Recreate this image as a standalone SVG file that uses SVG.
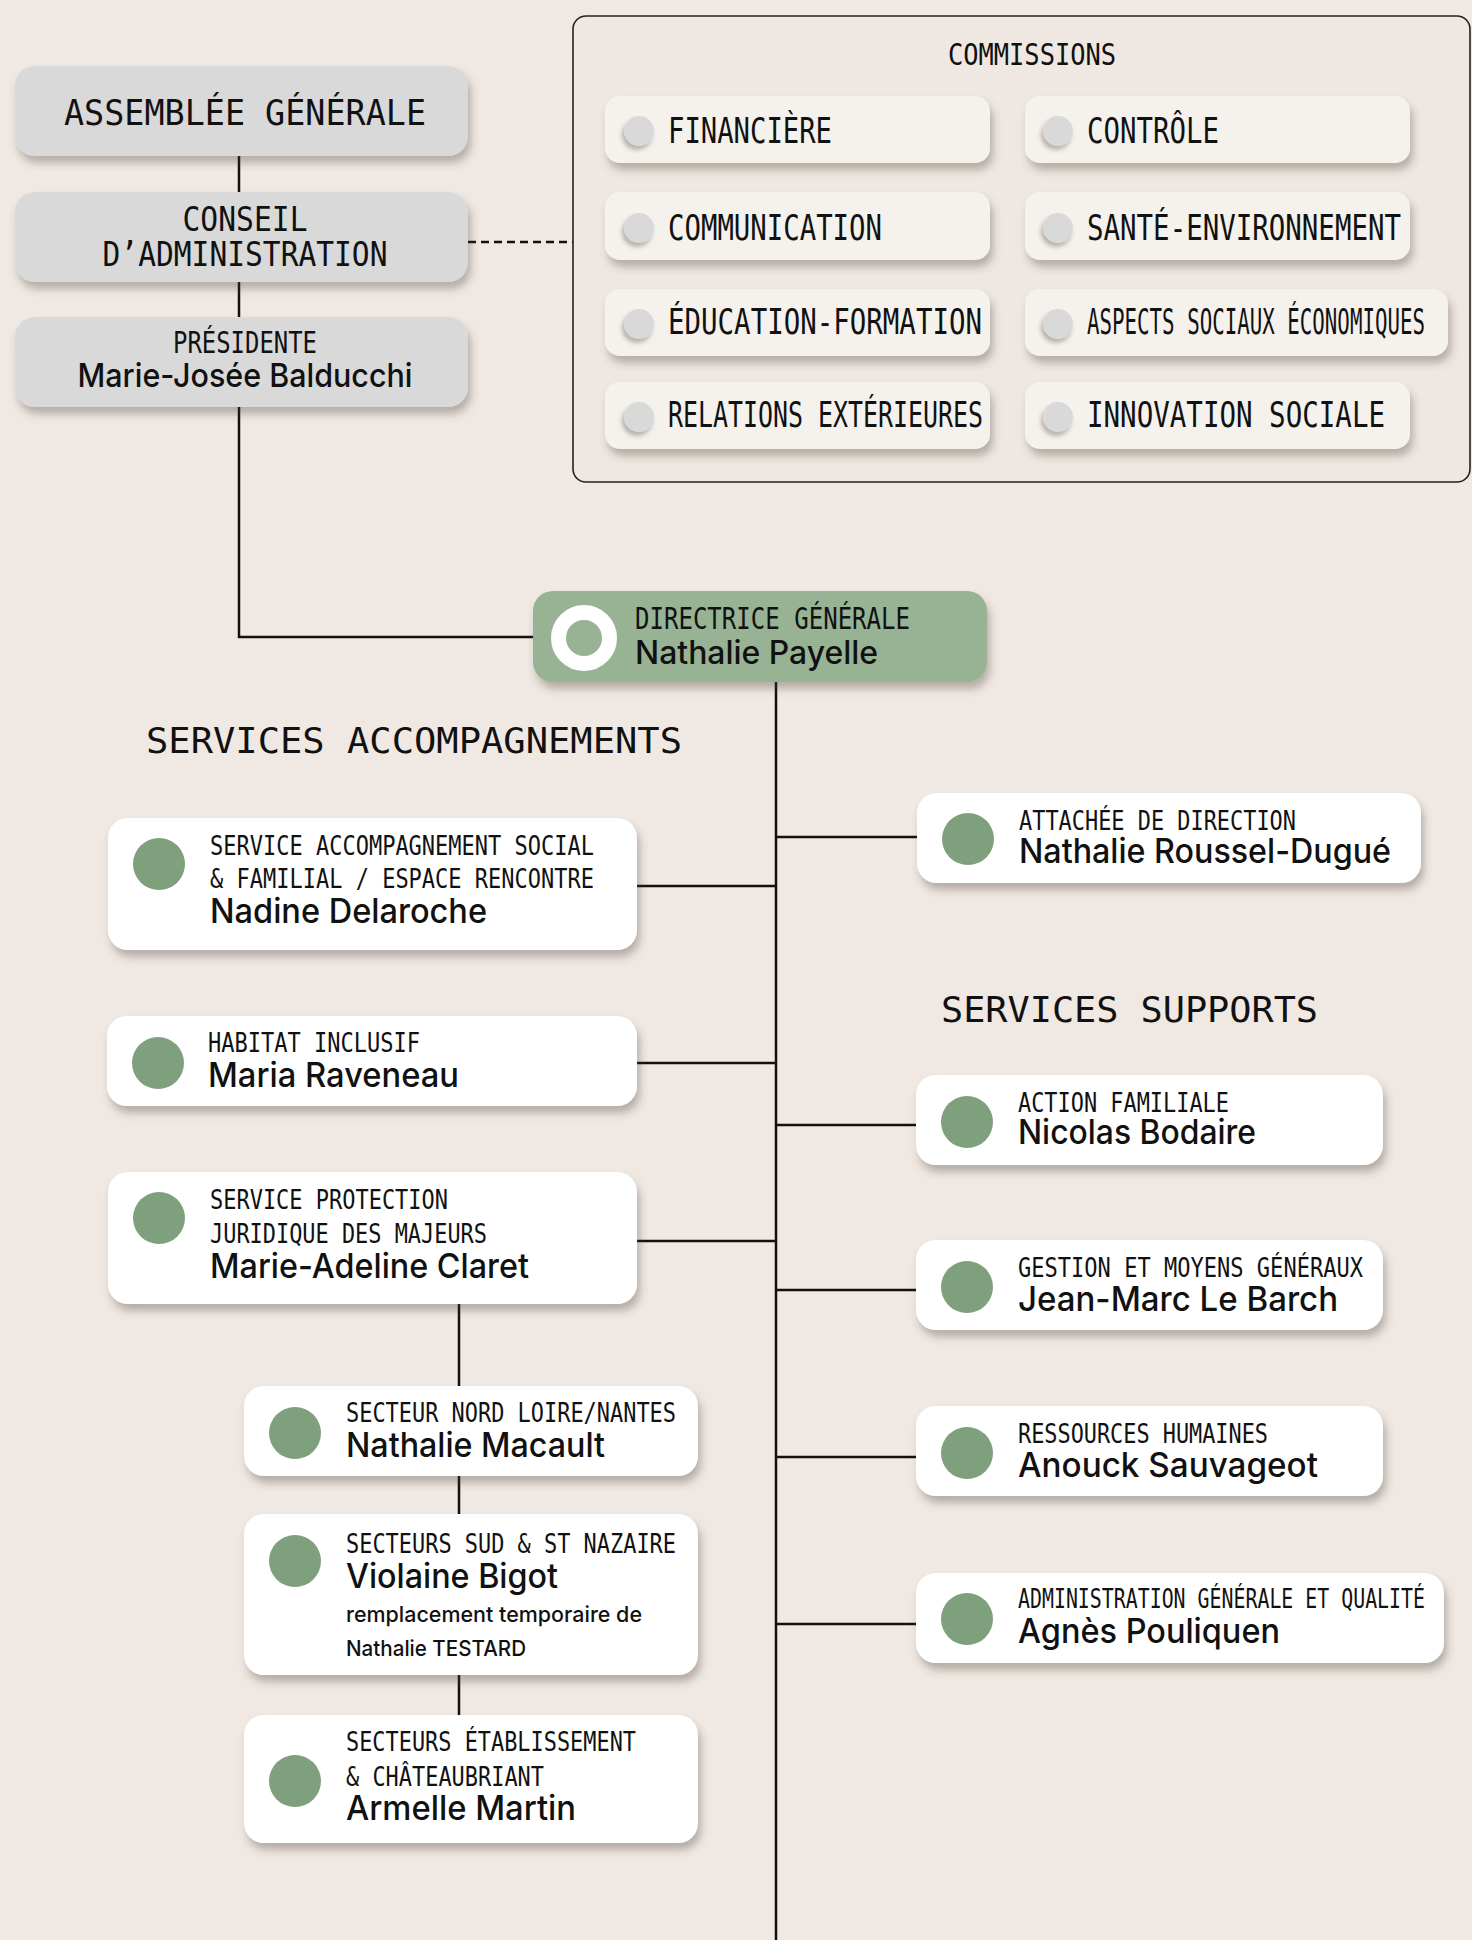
<svg xmlns="http://www.w3.org/2000/svg" width="1472" height="1940" viewBox="0 0 1472 1940">
<defs>
<filter id="sh" x="-10%" y="-20%" width="130%" height="160%">
<feDropShadow dx="3" dy="7" stdDeviation="4" flood-color="#4a3c30" flood-opacity="0.35"/>
</filter>
<filter id="dsh" x="-50%" y="-50%" width="200%" height="200%">
<feDropShadow dx="-2" dy="4" stdDeviation="2" flood-color="#4a3c30" flood-opacity="0.35"/>
</filter>
<style>
.gray{fill:#d9d9d9;filter:url(#sh)}
.white{fill:#ffffff;filter:url(#sh)}
.green{fill:#97b394;filter:url(#sh)}
.btn{fill:#f5f1ec;filter:url(#sh)}
.gdot{fill:#d9d9d9;filter:url(#dsh)}
.dot{fill:#7fa07c}
.mono{font-family:"DejaVu Sans Mono","Liberation Mono",monospace;fill:#111}
.name{font-family:Inter,"Liberation Sans",sans-serif;font-weight:500;fill:#111}
.ln{stroke:#111;stroke-width:2.5;fill:none}
</style>
</defs>
<rect width="1472" height="1940" fill="#f0e9e3"/>

<g id="connectors">
<path class="ln" d="M239 156V192M239 282V317M239 407V637H533"/>
<path class="ln" d="M468 242H573" stroke-dasharray="8 5" stroke-width="2"/>
<path class="ln" d="M776 682V1940"/>
<path class="ln" d="M637 886H776M637 1063H776M637 1241H776"/>
<path class="ln" d="M776 837H917M776 1125H917M776 1290H917M776 1457H917M776 1624H917"/>
<path class="ln" d="M459 1304V1386M459 1476V1514M459 1675V1715"/>
</g>

<g id="assemblee">
<rect class="gray" x="15" y="66" width="453" height="90" rx="20"/>
<text class="mono" x="245" y="125" font-size="36" text-anchor="middle" textLength="362" lengthAdjust="spacingAndGlyphs">ASSEMBLÉE GÉNÉRALE</text>
</g>
<g id="conseil">
<rect class="gray" x="15" y="192" width="453" height="90" rx="20"/>
<text class="mono" x="245" y="231" font-size="34" text-anchor="middle" textLength="125" lengthAdjust="spacingAndGlyphs">CONSEIL</text>
<text class="mono" x="245" y="266" font-size="34" text-anchor="middle" textLength="285" lengthAdjust="spacingAndGlyphs">D’ADMINISTRATION</text>
</g>
<g id="presidente">
<rect class="gray" x="15" y="317" width="453" height="90" rx="20"/>
<text class="mono" x="245" y="353" font-size="30" text-anchor="middle" textLength="144" lengthAdjust="spacingAndGlyphs">PRÉSIDENTE</text>
<text class="name" x="245" y="387" font-size="33" text-anchor="middle" textLength="335" lengthAdjust="spacingAndGlyphs">Marie-Josée Balducchi</text>
</g>

<g id="commissions">
<rect x="573" y="16" width="897" height="466" rx="13" fill="#efe8e2" stroke="#222" stroke-width="1.6"/>
<text class="mono" x="1032" y="65" font-size="30" text-anchor="middle" textLength="168" lengthAdjust="spacingAndGlyphs">COMMISSIONS</text>
</g>
<g id="c-financiere">
<rect class="btn" x="605" y="96" width="385" height="67" rx="15"/>
<circle class="gdot" cx="639" cy="131" r="15"/>
<text class="mono" x="668" y="143" font-size="36" textLength="164" lengthAdjust="spacingAndGlyphs">FINANCIÈRE</text>
</g>
<g id="c-communication">
<rect class="btn" x="605" y="192" width="385" height="68" rx="15"/>
<circle class="gdot" cx="639" cy="228" r="15"/>
<text class="mono" x="668" y="240" font-size="36" textLength="214" lengthAdjust="spacingAndGlyphs">COMMUNICATION</text>
</g>
<g id="c-education">
<rect class="btn" x="605" y="289" width="385" height="67" rx="15"/>
<circle class="gdot" cx="639" cy="324" r="15"/>
<text class="mono" x="668" y="334" font-size="36" textLength="314" lengthAdjust="spacingAndGlyphs">ÉDUCATION-FORMATION</text>
</g>
<g id="c-relations">
<rect class="btn" x="605" y="382" width="385" height="67" rx="15"/>
<circle class="gdot" cx="639" cy="417" r="15"/>
<text class="mono" x="668" y="427" font-size="36" textLength="315" lengthAdjust="spacingAndGlyphs">RELATIONS EXTÉRIEURES</text>
</g>
<g id="c-controle">
<rect class="btn" x="1025" y="96" width="385" height="67" rx="15"/>
<circle class="gdot" cx="1058" cy="131" r="15"/>
<text class="mono" x="1087" y="143" font-size="36" textLength="132" lengthAdjust="spacingAndGlyphs">CONTRÔLE</text>
</g>
<g id="c-sante">
<rect class="btn" x="1025" y="192" width="385" height="68" rx="15"/>
<circle class="gdot" cx="1058" cy="228" r="15"/>
<text class="mono" x="1087" y="240" font-size="36" textLength="314" lengthAdjust="spacingAndGlyphs">SANTÉ-ENVIRONNEMENT</text>
</g>
<g id="c-aspects">
<rect class="btn" x="1025" y="289" width="423" height="67" rx="15"/>
<circle class="gdot" cx="1058" cy="324" r="15"/>
<text class="mono" x="1087" y="334" font-size="36" textLength="338" lengthAdjust="spacingAndGlyphs">ASPECTS SOCIAUX ÉCONOMIQUES</text>
</g>
<g id="c-innovation">
<rect class="btn" x="1025" y="382" width="385" height="67" rx="15"/>
<circle class="gdot" cx="1058" cy="417" r="15"/>
<text class="mono" x="1087" y="427" font-size="36" textLength="298" lengthAdjust="spacingAndGlyphs">INNOVATION SOCIALE</text>
</g>

<g id="directrice">
<rect class="green" x="533" y="591" width="454" height="91" rx="20"/>
<circle cx="584" cy="638" r="25.5" fill="none" stroke="#fff" stroke-width="15"/>
<text class="mono" x="635" y="629" font-size="30" textLength="275" lengthAdjust="spacingAndGlyphs">DIRECTRICE GÉNÉRALE</text>
<text class="name" x="635" y="664" font-size="32" textLength="243" lengthAdjust="spacingAndGlyphs">Nathalie Payelle</text>
</g>

<g id="titles">
<text class="mono" x="146" y="753" font-size="36" textLength="536" lengthAdjust="spacingAndGlyphs">SERVICES ACCOMPAGNEMENTS</text>
<text class="mono" x="941" y="1022" font-size="36" textLength="377" lengthAdjust="spacingAndGlyphs">SERVICES SUPPORTS</text>
</g>

<g id="n-nadine">
<rect class="white" x="108" y="818" width="529" height="132" rx="20"/>
<circle class="dot" cx="159" cy="864" r="26"/>
<text class="mono" x="210" y="855" font-size="27" textLength="384" lengthAdjust="spacingAndGlyphs">SERVICE ACCOMPAGNEMENT SOCIAL</text>
<text class="mono" x="210" y="888" font-size="27" textLength="384" lengthAdjust="spacingAndGlyphs">&amp; FAMILIAL / ESPACE RENCONTRE</text>
<text class="name" x="210" y="923" font-size="34" textLength="277" lengthAdjust="spacingAndGlyphs">Nadine Delaroche</text>
</g>
<g id="n-habitat">
<rect class="white" x="107" y="1016" width="530" height="90" rx="20"/>
<circle class="dot" cx="158" cy="1063" r="26"/>
<text class="mono" x="208" y="1052" font-size="27" textLength="212" lengthAdjust="spacingAndGlyphs">HABITAT INCLUSIF</text>
<text class="name" x="208" y="1087" font-size="34" textLength="251" lengthAdjust="spacingAndGlyphs">Maria Raveneau</text>
</g>
<g id="n-protection">
<rect class="white" x="108" y="1172" width="529" height="132" rx="20"/>
<circle class="dot" cx="159" cy="1218" r="26"/>
<text class="mono" x="210" y="1209" font-size="27" textLength="238" lengthAdjust="spacingAndGlyphs">SERVICE PROTECTION</text>
<text class="mono" x="210" y="1243" font-size="27" textLength="277" lengthAdjust="spacingAndGlyphs">JURIDIQUE DES MAJEURS</text>
<text class="name" x="210" y="1278" font-size="34" textLength="319" lengthAdjust="spacingAndGlyphs">Marie-Adeline Claret</text>
</g>
<g id="n-macault">
<rect class="white" x="244" y="1386" width="454" height="90" rx="20"/>
<circle class="dot" cx="295" cy="1433" r="26"/>
<text class="mono" x="346" y="1422" font-size="27" textLength="330" lengthAdjust="spacingAndGlyphs">SECTEUR NORD LOIRE/NANTES</text>
<text class="name" x="346" y="1457" font-size="34" textLength="259" lengthAdjust="spacingAndGlyphs">Nathalie Macault</text>
</g>
<g id="n-bigot">
<rect class="white" x="244" y="1514" width="454" height="161" rx="20"/>
<circle class="dot" cx="295" cy="1561" r="26"/>
<text class="mono" x="346" y="1553" font-size="27" textLength="330" lengthAdjust="spacingAndGlyphs">SECTEURS SUD &amp; ST NAZAIRE</text>
<text class="name" x="346" y="1588" font-size="34" textLength="212" lengthAdjust="spacingAndGlyphs">Violaine Bigot</text>
<text class="name" x="346" y="1622" font-size="22" textLength="296" lengthAdjust="spacingAndGlyphs">remplacement temporaire de</text>
<text class="name" x="346" y="1656" font-size="22" textLength="180" lengthAdjust="spacingAndGlyphs">Nathalie TESTARD</text>
</g>
<g id="n-martin">
<rect class="white" x="244" y="1715" width="454" height="128" rx="20"/>
<circle class="dot" cx="295" cy="1781" r="26"/>
<text class="mono" x="346" y="1751" font-size="27" textLength="290" lengthAdjust="spacingAndGlyphs">SECTEURS ÉTABLISSEMENT</text>
<text class="mono" x="346" y="1786" font-size="27" textLength="198" lengthAdjust="spacingAndGlyphs">&amp; CHÂTEAUBRIANT</text>
<text class="name" x="346" y="1820" font-size="34" textLength="230" lengthAdjust="spacingAndGlyphs">Armelle Martin</text>
</g>

<g id="n-attachee">
<rect class="white" x="917" y="793" width="504" height="90" rx="20"/>
<circle class="dot" cx="968" cy="839" r="26"/>
<text class="mono" x="1019" y="830" font-size="27" textLength="277" lengthAdjust="spacingAndGlyphs">ATTACHÉE DE DIRECTION</text>
<text class="name" x="1019" y="863" font-size="34" textLength="372" lengthAdjust="spacingAndGlyphs">Nathalie Roussel-Dugué</text>
</g>
<g id="n-action">
<rect class="white" x="916" y="1075" width="467" height="90" rx="20"/>
<circle class="dot" cx="967" cy="1122" r="26"/>
<text class="mono" x="1018" y="1112" font-size="27" textLength="211" lengthAdjust="spacingAndGlyphs">ACTION FAMILIALE</text>
<text class="name" x="1018" y="1144" font-size="34" textLength="238" lengthAdjust="spacingAndGlyphs">Nicolas Bodaire</text>
</g>
<g id="n-gestion">
<rect class="white" x="916" y="1240" width="467" height="90" rx="20"/>
<circle class="dot" cx="967" cy="1287" r="26"/>
<text class="mono" x="1018" y="1277" font-size="27" textLength="345" lengthAdjust="spacingAndGlyphs">GESTION ET MOYENS GÉNÉRAUX</text>
<text class="name" x="1018" y="1311" font-size="34" textLength="320" lengthAdjust="spacingAndGlyphs">Jean-Marc Le Barch</text>
</g>
<g id="n-rh">
<rect class="white" x="916" y="1406" width="467" height="90" rx="20"/>
<circle class="dot" cx="967" cy="1453" r="26"/>
<text class="mono" x="1018" y="1443" font-size="27" textLength="250" lengthAdjust="spacingAndGlyphs">RESSOURCES HUMAINES</text>
<text class="name" x="1018" y="1477" font-size="34" textLength="300" lengthAdjust="spacingAndGlyphs">Anouck Sauvageot</text>
</g>
<g id="n-admin">
<rect class="white" x="916" y="1573" width="528" height="90" rx="20"/>
<circle class="dot" cx="967" cy="1619" r="26"/>
<text class="mono" x="1018" y="1608" font-size="27" textLength="407" lengthAdjust="spacingAndGlyphs">ADMINISTRATION GÉNÉRALE ET QUALITÉ</text>
<text class="name" x="1018" y="1643" font-size="34" textLength="262" lengthAdjust="spacingAndGlyphs">Agnès Pouliquen</text>
</g>
</svg>
